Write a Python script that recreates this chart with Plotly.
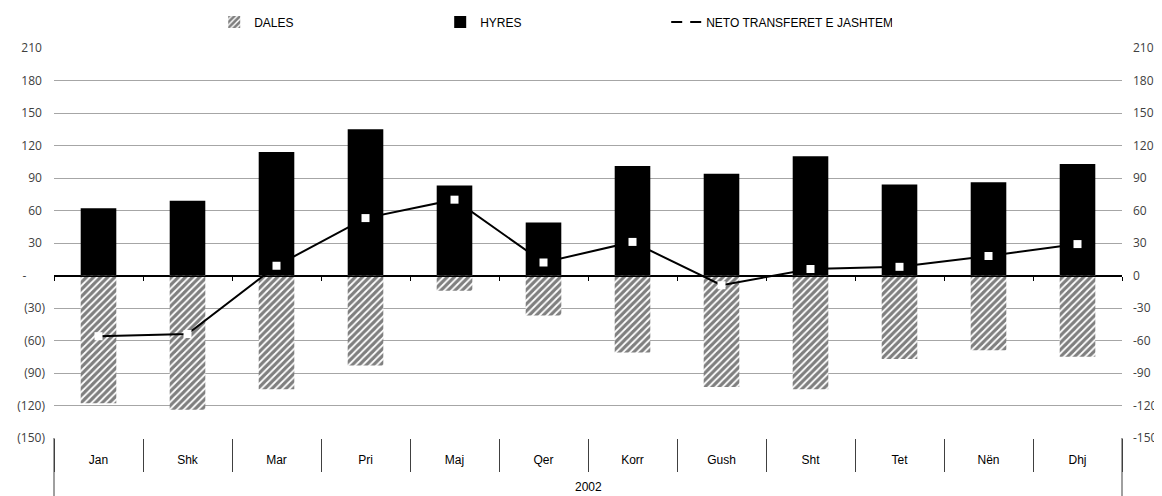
import plotly.graph_objects as go

months = ["Jan", "Shk", "Mar", "Pri", "Maj", "Qer", "Korr", "Gush", "Sht", "Tet", "Nën", "Dhj"]
hyres = [62, 69, 114, 135, 83, 49, 101, 94, 110, 84, 86, 103]
dales = [-118, -124, -105, -83, -14, -37, -71, -103, -105, -77, -69, -75]
neto = [-56, -54, 9, 53, 70, 12, 31, -9, 6, 8, 18, 29]
year_label = "2002"

tick_vals = list(range(-150, 211, 30))
NB = "\u00a0"
left_text = []
for v in tick_vals:
    if v < 0:
        left_text.append(f"({-v})")
    elif v == 0:
        left_text.append("-" + NB * 6)
    else:
        left_text.append(f"{v}" + NB)
right_text = [str(v) for v in tick_vals]

YMIN, YMAX = -150, 210
TXT = "Liberation Sans, Arial, sans-serif"
NUM = "Open Sans, Liberation Sans, sans-serif"

fig = go.Figure()
fig.add_trace(go.Bar(
    x=months, y=dales, name="DALES", width=0.4,
    marker=dict(color="white", line=dict(width=0),
                pattern=dict(shape="/", fgcolor="black", bgcolor="white", size=5, solidity=0.65)),
))
fig.add_trace(go.Bar(
    x=months, y=hyres, name="HYRES", width=0.4,
    marker=dict(color="black", line=dict(width=0)),
))
fig.add_trace(go.Scatter(
    x=months, y=neto, name="NETO TRANSFERET E JASHTEM", mode="lines+markers",
    line=dict(color="black", width=2),
    marker=dict(symbol="square", size=8, color="white", line=dict(width=0)),
    xaxis="x2", yaxis="y2",
))

pos0 = (0 - YMIN) / (YMAX - YMIN)

# page body has an 8px default margin -> figure is 8px smaller and margins shifted
fig.update_layout(
    width=1154, height=488,
    margin=dict(l=46, r=40, t=40, b=58, autoexpand=False),
    paper_bgcolor="white", plot_bgcolor="white",
    barmode="relative",
    font=dict(family=TXT, size=12, color="black"),
    showlegend=True,
    legend=dict(orientation="h", x=0.15, xanchor="left", y=1.0667, yanchor="middle",
                entrywidth=181, font=dict(family=TXT, size=12, color="black"),
                bgcolor="rgba(0,0,0,0)", traceorder="normal"),
    xaxis=dict(type="category", categoryarray=months, categoryorder="array",
               range=[-0.5, 11.5], showgrid=False, showline=False, zeroline=False,
               ticks="outside", tickson="boundaries", ticklen=33, tickwidth=1, tickcolor="#404040",
               ticklabelstandoff=13, tickfont=dict(family=TXT, size=12, color="black"),
               automargin=False, fixedrange=True),
    xaxis2=dict(type="category", categoryarray=months, categoryorder="array",
                range=[-0.5, 11.5], overlaying="x", anchor="free", position=pos0, side="bottom",
                showgrid=False, zeroline=False, showline=True, linecolor="black", linewidth=1,
                ticks="outside", tickson="boundaries", ticklen=4, tickwidth=1, tickcolor="black",
                showticklabels=False, automargin=False),
    yaxis=dict(range=[YMIN, YMAX], tickmode="array", tickvals=tick_vals, ticktext=left_text,
               showgrid=True, gridcolor="#A6A6A6", gridwidth=1,
               zeroline=True, zerolinecolor="black", zerolinewidth=1,
               showline=False, ticks="", ticklabelstandoff=8,
               tickfont=dict(family=NUM, size=12, color="#404040"), automargin=False),
    yaxis2=dict(range=[YMIN, YMAX], tickmode="array", tickvals=tick_vals, ticktext=right_text,
                overlaying="y", side="right", showgrid=False, zeroline=False, showline=False,
                ticks="", ticklabelstandoff=10,
                tickfont=dict(family=NUM, size=12, color="#404040"), automargin=False),
)

bottom = -58 / 390
for xv in (0, 1):
    fig.add_shape(type="line", xref="paper", yref="paper", x0=xv, x1=xv, y0=0, y1=bottom,
                  line=dict(color="#404040", width=1))

fig.add_annotation(text=year_label, xref="paper", yref="paper", x=0.5, y=-(487 - 438) / 390,
                   xanchor="center", yanchor="middle", showarrow=False,
                   font=dict(family=TXT, size=12, color="black"))

fig.write_html("out.html")
